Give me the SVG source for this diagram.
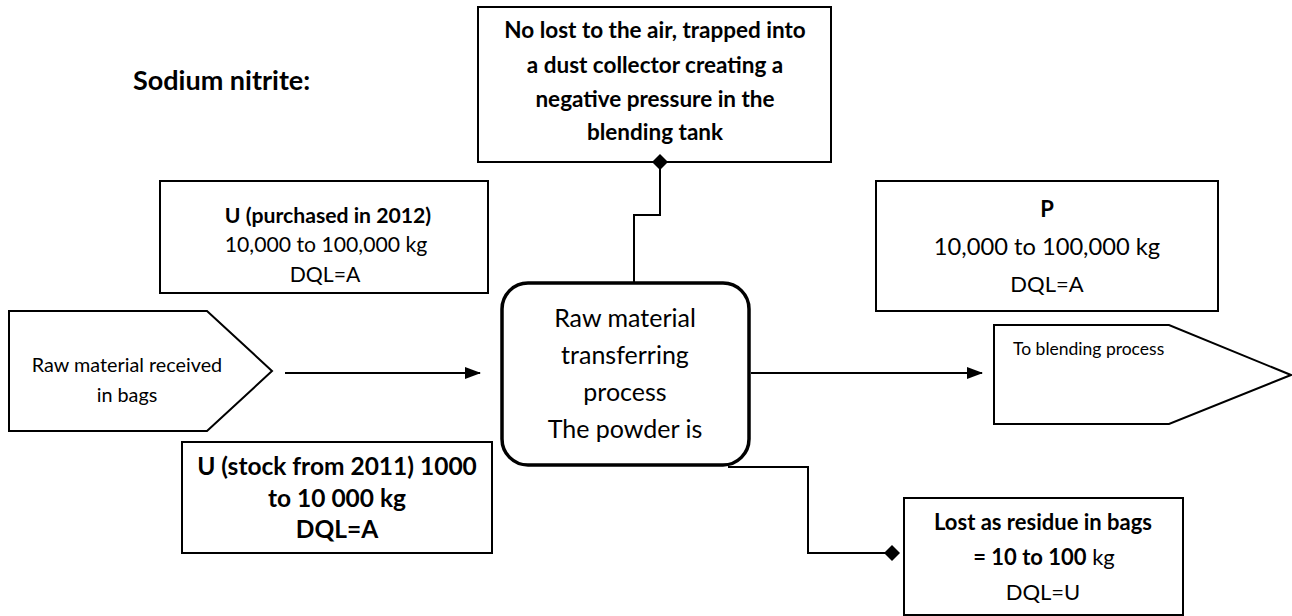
<svg xmlns="http://www.w3.org/2000/svg" width="1292" height="616" viewBox="0 0 1292 616">
  <defs>
    <marker id="arrow" markerWidth="16" markerHeight="12" refX="15" refY="6" orient="auto" markerUnits="userSpaceOnUse">
      <path d="M0,0 L16,6 L0,12 Z" fill="#000"/>
    </marker>
    <marker id="diamond" markerWidth="16" markerHeight="16" refX="8" refY="8" orient="auto" markerUnits="userSpaceOnUse">
      <path d="M0,8 L8,0 L16,8 L8,16 Z" fill="#000"/>
    </marker>
  </defs>
  <style>
    text { font-family: Lato, "Liberation Sans", sans-serif; fill: #000; text-anchor: middle; }
    .box { fill: #fff; stroke: #000; stroke-width: 2; }
    .proc { fill: #fff; stroke: #000; stroke-width: 3.5; }
    .b { font-weight: bold; }
    .conn { fill: none; stroke: #000; stroke-width: 2; }
  </style>
  <rect width="1292" height="616" fill="#fff"/>

  <text x="133" y="90" class="b" style="font-size:27px;text-anchor:start">Sodium nitrite:</text>

  <g id="dust-collector" style="font-size:22.5px">
    <rect class="box" x="478" y="7" width="353" height="155"/>
    <text x="655" y="38" class="b">No lost to the air, trapped into</text>
    <text x="655" y="73" class="b">a dust collector creating a</text>
    <text x="655" y="107" class="b">negative pressure in the</text>
    <text x="655" y="140" class="b">blending tank</text>
  </g>

  <g id="purchased-2012" style="font-size:21.2px">
    <rect class="box" x="160" y="181" width="328" height="112"/>
    <text x="328" y="223" class="b">U (purchased in 2012)</text>
    <text x="326" y="252">10,000 to 100,000 kg</text>
    <text x="325" y="282">DQL=A</text>
  </g>

  <g id="received-bags" style="font-size:19.8px">
    <path class="box" d="M9,311 L207,311 L272,371 L207,431 L9,431 Z"/>
    <text x="127" y="372">Raw material received</text>
    <text x="127" y="402">in bags</text>
  </g>

  <g id="transfer-process" style="font-size:25px">
    <rect class="proc" x="502" y="283" width="247" height="182" rx="26" ry="26"/>
    <text x="625" y="327">Raw material</text>
    <text x="625" y="364">transferring</text>
    <text x="625" y="401">process</text>
    <text x="625" y="438">The powder is</text>
  </g>

  <g id="stock-2011" style="font-size:24.5px">
    <rect class="box" x="182" y="442" width="310" height="111"/>
    <text x="337" y="475" class="b">U (stock from 2011) 1000</text>
    <text x="337" y="507" class="b">to 10 000 kg</text>
    <text x="337" y="538" class="b">DQL=A</text>
  </g>

  <g id="product" style="font-size:22px">
    <rect class="box" x="876" y="181" width="342" height="130"/>
    <text x="1047" y="217" class="b">P</text>
    <text x="1047" y="255" style="font-size:23.7px">10,000 to 100,000 kg</text>
    <text x="1047" y="292">DQL=A</text>
  </g>

  <g id="to-blending" style="font-size:17.5px">
    <path class="box" d="M994,325 L1169,325 L1291,375 L1169,424 L994,424 Z"/>
    <text x="1013" y="355" style="text-anchor:start">To blending process</text>
  </g>

  <g id="residue-loss" style="font-size:22px">
    <rect class="box" x="904" y="498" width="279" height="117"/>
    <text x="1043" y="530" class="b">Lost as residue in bags</text>
    <text x="1044" y="565"><tspan class="b">= 10 to 100</tspan> kg</text>
    <text x="1043" y="600">DQL=U</text>
  </g>

  <g id="connectors">
    <path class="conn" d="M285,373 L480,373" marker-end="url(#arrow)"/>
    <path class="conn" d="M751,373 L982,373" marker-end="url(#arrow)"/>
    <path class="conn" d="M634,283 L634,215 L660,215 L660,162" marker-end="url(#diamond)"/>
    <path class="conn" d="M728,467 L808,467 L808,553 L892,553" marker-end="url(#diamond)"/>
  </g>
</svg>
